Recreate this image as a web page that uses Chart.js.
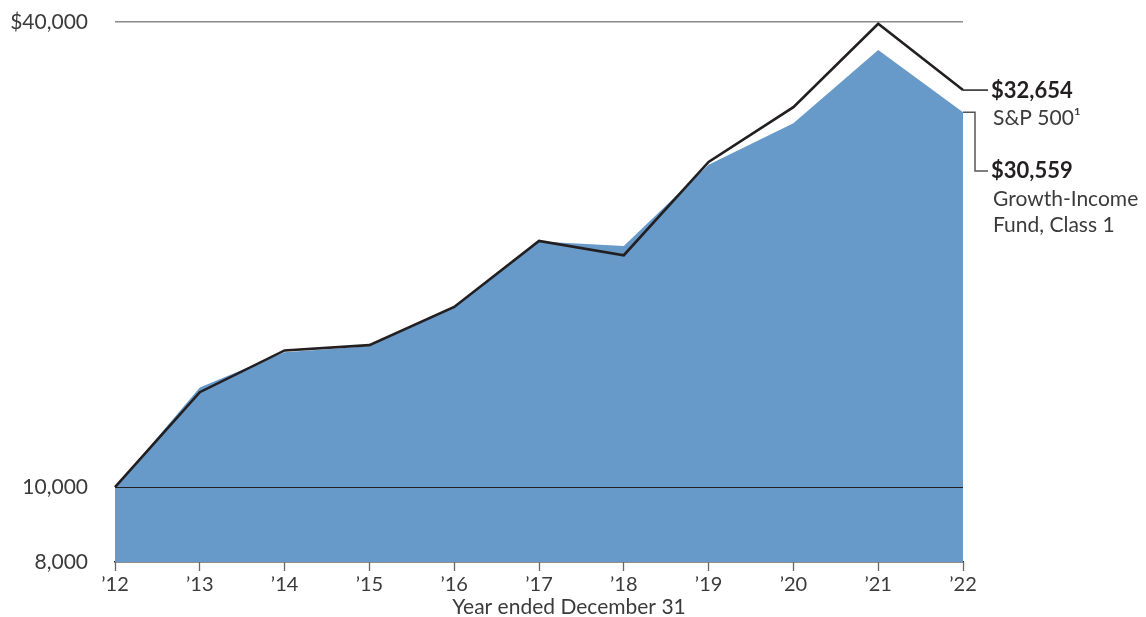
<!DOCTYPE html>
<html>
<head>
<meta charset="utf-8">
<script src="https://cdn.jsdelivr.net/npm/chart.js@4.4.1/dist/chart.umd.min.js"></script>
<style>
  html, body { margin: 0; padding: 0; background: #ffffff; }
  #wrap { width: 1146px; height: 617px; position: relative; }
</style>
</head>
<body>
<div id="wrap"><canvas id="chart" width="1146" height="617"></canvas></div>
<script>
// Growth of $10,000, year ended December 31
const years = ['’12', '’13', '’14', '’15', '’16', '’17', '’18', '’19', '’20', '’21', '’22'];
const sp500 = [10000, 13270, 15030, 15270, 17110, 20830, 19960, 26360, 31030, 39790, 32654];
const fund = [10000, 13460, 14950, 15220, 17080, 20800, 20520, 26130, 29590, 36810, 30559];
const yTicks = [8000, 10000, 40000];

const FONT = 'Lato, "Open Sans", sans-serif';
const TEXT = '#3b3b3b';
const INK = '#231f20';
const BLUE = '#6799c9';

// lines drawn over the filled area, plus the end-of-series callouts
const overlay = {
  id: 'overlay',
  afterDatasetsDraw(chart) {
    const { ctx, chartArea, scales } = chart;
    const y = scales.y;
    ctx.save();
    // 10,000 reference line across the area
    const y10 = Math.round(y.getPixelForValue(10000)) + 0.5;
    ctx.strokeStyle = INK;
    ctx.lineWidth = 1.2;
    ctx.beginPath();
    ctx.moveTo(chartArea.left, y10);
    ctx.lineTo(chartArea.right, y10);
    ctx.stroke();

    // callouts for the final values
    const spPt = chart.getDatasetMeta(1).data[sp500.length - 1];
    const fdPt = chart.getDatasetMeta(0).data[fund.length - 1];
    const x0 = spPt.x;
    const tx = x0 + 28;

    ctx.lineWidth = 1.5;
    ctx.strokeStyle = INK;
    ctx.beginPath();
    ctx.moveTo(x0, spPt.y);
    ctx.lineTo(x0 + 25, spPt.y);
    ctx.stroke();

    const fy = spPt.y + 81;
    ctx.strokeStyle = '#555555';
    ctx.beginPath();
    ctx.moveTo(x0, fdPt.y);
    ctx.lineTo(x0 + 12, fdPt.y);
    ctx.lineTo(x0 + 12, fy);
    ctx.lineTo(x0 + 25, fy);
    ctx.stroke();

    ctx.textAlign = 'left';
    ctx.textBaseline = 'middle';
    ctx.fillStyle = INK;
    ctx.font = 'bold 22px ' + FONT;
    ctx.fillText('$' + sp500[sp500.length - 1].toLocaleString('en-US'), tx, spPt.y + 1);
    ctx.fillText('$' + fund[fund.length - 1].toLocaleString('en-US'), tx, fy);
    ctx.fillStyle = TEXT;
    ctx.font = '21px ' + FONT;
    ctx.fillText('S&P 500¹', tx + 2, spPt.y + 28);
    ctx.fillText('Growth-Income', tx + 2, fy + 28);
    ctx.fillText('Fund, Class 1', tx + 2, fy + 54);

    // x-axis caption
    ctx.textAlign = 'center';
    ctx.fillText('Year ended December 31', (chartArea.left + chartArea.right) / 2 + 30, 607);
    ctx.restore();
  }
};

new Chart(document.getElementById('chart'), {
  type: 'line',
  data: {
    labels: years,
    datasets: [
      {
        label: 'Growth-Income Fund, Class 1',
        data: fund,
        order: 2,
        borderWidth: 0,
        borderColor: BLUE,
        backgroundColor: BLUE,
        fill: 'start',
        pointRadius: 0,
        tension: 0
      },
      {
        label: 'S&P 500',
        data: sp500,
        order: 1,
        borderWidth: 2.6,
        borderColor: INK,
        borderJoinStyle: 'miter',
        fill: false,
        pointRadius: 0,
        tension: 0
      }
    ]
  },
  options: {
    responsive: false,
    animation: false,
    events: [],
    layout: { padding: { top: 22, right: 183, bottom: 0, left: 0 } },
    plugins: { legend: { display: false }, tooltip: { enabled: false } },
    scales: {
      x: {
        type: 'category',
        offset: false,
        grid: {
          drawOnChartArea: false,
          drawTicks: true,
          tickLength: 9,
          tickColor: '#666666',
          tickWidth: 1.3
        },
        border: { display: true, color: INK, width: 1.5 },
        ticks: {
          color: TEXT,
          font: { family: FONT, size: 20 },
          padding: 2,
          maxRotation: 0,
          autoSkip: false
        },
        afterFit(scale) { scale.height = 55; }
      },
      y: {
        type: 'logarithmic',
        min: 8000,
        max: 40000,
        afterBuildTicks(scale) {
          scale.ticks = yTicks.map(v => ({ value: v }));
        },
        afterFit(scale) {
          scale.width = 115;
          scale.paddingTop = 0;
          scale.paddingBottom = 0;
        },
        grid: {
          drawTicks: false,
          color(ctx) {
            return ctx.tick && ctx.tick.value === 40000 ? '#8a8a8a' : 'rgba(0,0,0,0)';
          },
          lineWidth: 1.5
        },
        border: { display: false },
        ticks: {
          color: TEXT,
          font: { family: FONT, size: 21 },
          padding: 27,
          callback(value) {
            const s = Number(value).toLocaleString('en-US');
            return value === 40000 ? '$' + s : s;
          }
        }
      }
    }
  },
  plugins: [overlay]
});
</script>
</body>
</html>
